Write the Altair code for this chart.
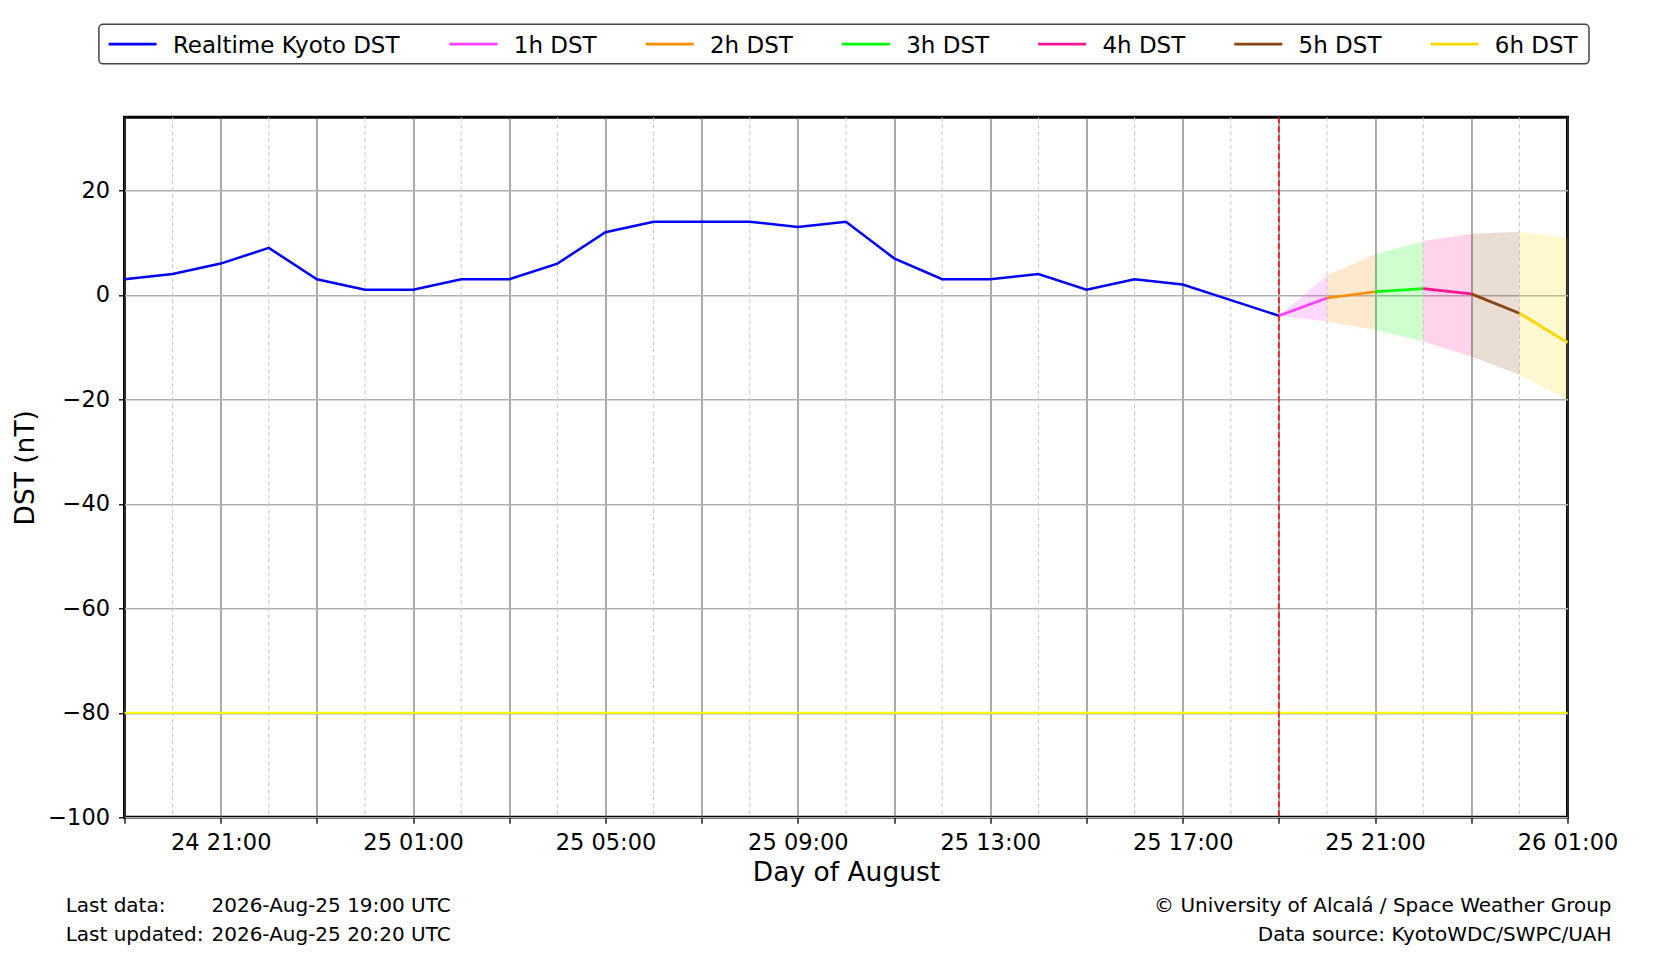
import altair as alt
import pandas as pd

# ---------------- data ----------------
series_names = ["Realtime Kyoto DST", "1h DST", "2h DST", "3h DST", "4h DST", "5h DST", "6h DST"]
series_colors = ["#0000ff", "#ff40ff", "#ff8c00", "#00ff00", "#ff1493", "#8b4513", "#ffd700"]
band_opacity = [0.2, 0.18, 0.2, 0.14, 0.22, 0.13, 0.2]
line_widths = [2.5, 2.8, 2.8, 2.8, 2.8, 2.8, 2.8]

# hourly Kyoto DST, 2026-08-24 19:00 UTC .. 2026-08-25 19:00 UTC
realtime_times = pd.date_range("2026-08-24 19:00", "2026-08-25 19:00", freq="1h", tz="UTC")
realtime_dst = [3, 4, 6, 9, 3, 1, 1, 3, 3, 6, 12, 14, 14, 14, 13, 14, 7, 3, 3, 4, 1, 3, 2, -1, -4]

# forecast nodes, 2026-08-25 19:00 .. 2026-08-26 01:00 UTC
forecast_times = pd.date_range("2026-08-25 19:00", "2026-08-26 01:00", freq="1h", tz="UTC")
forecast_dst = [-4, -0.6, 0.6, 1.2, 0.2, -3.5, -9.1]
forecast_upper = [-4, 3.7, 7.8, 10.3, 11.7, 12.1, 10.9]
forecast_lower = [-4, -5.1, -6.7, -8.9, -11.8, -15.3, -20.1]

now_time = ["2026-08-25T19:00:00Z"]
storm_level = [-80]

x_start = pd.Timestamp("2026-08-24 19:00", tz="UTC")
x_end = pd.Timestamp("2026-08-26 01:00", tz="UTC")
major_ticks = pd.date_range(x_start, x_end, freq="2h")
minor_grid = pd.date_range("2026-08-24 20:00", "2026-08-26 00:00", freq="2h", tz="UTC")
y_ticks = [-100, -80, -60, -40, -20, 0, 20]
y_domain = [-100, 34]

footer_left = ["Last data:", "Last updated:"]
footer_values = ["2026-Aug-25 19:00 UTC", "2026-Aug-25 20:20 UTC"]
footer_right = ["\u00a9 University of Alcal\u00e1 / Space Weather Group", "Data source: KyotoWDC/SWPC/UAH"]


def iso(ts):
    return ts.strftime("%Y-%m-%dT%H:%M:%SZ")


def ms(ts):
    return int(ts.value // 10**6)


# ---------------- tables ----------------
line_rows = [{"t": iso(t), "v": v, "series": series_names[0]}
             for t, v in zip(realtime_times, realtime_dst)]
band_rows = []
for k in range(1, 7):
    for j in (k - 1, k):
        line_rows.append({"t": iso(forecast_times[j]), "v": forecast_dst[j], "series": series_names[k]})
        band_rows.append({"t": iso(forecast_times[j]), "up": forecast_upper[j],
                          "lo": forecast_lower[j], "series": series_names[k]})
line_df = pd.DataFrame(line_rows)
band_df = pd.DataFrame(band_rows)
minor_df = pd.DataFrame({"t": [iso(t) for t in minor_grid]})
now_df = pd.DataFrame({"t": now_time})
storm_df = pd.DataFrame({"v": storm_level})

FONT = "DejaVu Sans"

x_axis = alt.Axis(
    values=[ms(t) for t in major_ticks],
    labelExpr="utchours(datum.value) % 4 == 1 ? utcFormat(datum.value, '%d %H:%M') : ''",
    title="Day of August", titleFontSize=26.5, titleFontWeight="normal", titleColor="black",
    titleFont=FONT, titlePadding=6,
    labelFont=FONT, labelFontSize=22.5, labelColor="black", labelPadding=8,
    labelFlush=False, labelOverlap=False,
    tickSize=6, tickWidth=1.3, tickColor="black",
    domain=False, grid=True, gridColor="#555555", gridWidth=1.0,
)
y_axis = alt.Axis(
    values=y_ticks,
    labelExpr="replace(toString(datum.value), '-', '\u2212')",
    title="DST (nT)", titleFontSize=26.5, titleFontWeight="normal", titleColor="black",
    titleFont=FONT, titlePadding=8,
    labelFont=FONT, labelFontSize=22.5, labelColor="black", labelPadding=9,
    tickSize=6, tickWidth=1.3, tickColor="black",
    domain=False, grid=True, gridColor="#b0b0b0", gridWidth=1.5,
)
x_scale = alt.Scale(type="utc", domain=[ms(x_start), ms(x_end)], nice=False)
y_scale = alt.Scale(domain=y_domain, nice=False, zero=False)
color_scale = alt.Scale(domain=series_names, range=series_colors)


def X(field="t"):
    return alt.X(f"{field}:T", scale=x_scale, axis=x_axis)


def Y(field="v"):
    return alt.Y(f"{field}:Q", scale=y_scale, axis=y_axis)


bands = alt.Chart(band_df).mark_area(strokeWidth=0).encode(
    x=X(), y=Y("up"), y2="lo:Q",
    fill=alt.Fill("series:N", scale=color_scale, legend=None),
    fillOpacity=alt.FillOpacity("series:N",
                                scale=alt.Scale(domain=series_names, range=band_opacity),
                                legend=None),
)

minor = alt.Chart(minor_df).mark_rule(color="#c4c4c4", strokeWidth=1, strokeDash=[4, 3]).encode(x=X())

storm = alt.Chart(storm_df).mark_rule(color="#ffff00", strokeWidth=2).encode(y=Y())

lines = alt.Chart(line_df).mark_line().encode(
    x=X(), y=Y(),
    color=alt.Color("series:N", scale=color_scale, legend=None),
    strokeWidth=alt.StrokeWidth("series:N",
                                scale=alt.Scale(domain=series_names, range=line_widths),
                                legend=None),
)

now_rule = alt.Chart(now_df).mark_rule(color="#ff0000", strokeWidth=1.5, strokeDash=[6, 3]).encode(x=X())


def footer(text, x, y, align, size=20):
    return alt.Chart(pd.DataFrame({"s": [text]})).mark_text(
        font=FONT, fontSize=size, color="black", align=align, baseline="middle"
    ).encode(text="s:N", x=alt.value(x), y=alt.value(y))


texts = [
    footer(footer_left[0], -58.8, 789, "left"),
    footer(footer_left[1], -58.8, 818, "left"),
    footer(footer_values[0], 87, 789, "left"),
    footer(footer_values[1], 87, 818, "left"),
    footer(footer_right[0], 1487, 789, "right"),
    footer(footer_right[1], 1487, 818, "right"),
]

# ---------------- legend (drawn as guide marks above the plot) ----------------
LEG_X0, LEG_X1, LEG_Y0, LEG_Y1 = -25.6, 1464.5, -93.0, -53.5
LEG_CY = (LEG_Y0 + LEG_Y1) / 2
first_handle, first_pitch, pitch, handle_len, label_gap = -15.9, 340.9, 196.2, 48, 64.3

legend_parts = [
    alt.Chart(pd.DataFrame({"k": [0]})).mark_rect(
        fill="white", stroke="#444444", strokeWidth=1.5, cornerRadius=4
    ).encode(x=alt.value(LEG_X0), x2=alt.value(LEG_X1), y=alt.value(LEG_Y0), y2=alt.value(LEG_Y1))
]
for i, (name, col) in enumerate(zip(series_names, series_colors)):
    hx = first_handle if i == 0 else first_handle + first_pitch + (i - 1) * pitch
    legend_parts.append(
        alt.Chart(pd.DataFrame({"s": [name]})).mark_rule(color=col, strokeWidth=2.8).encode(
            x=alt.value(hx), x2=alt.value(hx + handle_len), y=alt.value(LEG_CY)
        )
    )
    legend_parts.append(footer(name, hx + label_gap, LEG_CY + 1.5, "left", size=23))

chart = alt.layer(bands, minor, storm, lines, now_rule, *texts, *legend_parts).properties(
    width=1443, height=700,
    autosize=alt.AutoSizeParams(type="none"),
    padding={"left": 116.5, "top": 109.3, "right": 100, "bottom": 133},
    background="white",
).configure_view(
    stroke="black", strokeWidth=3
)

chart.save("out.html", embed_options={"renderer": "svg", "actions": False})
